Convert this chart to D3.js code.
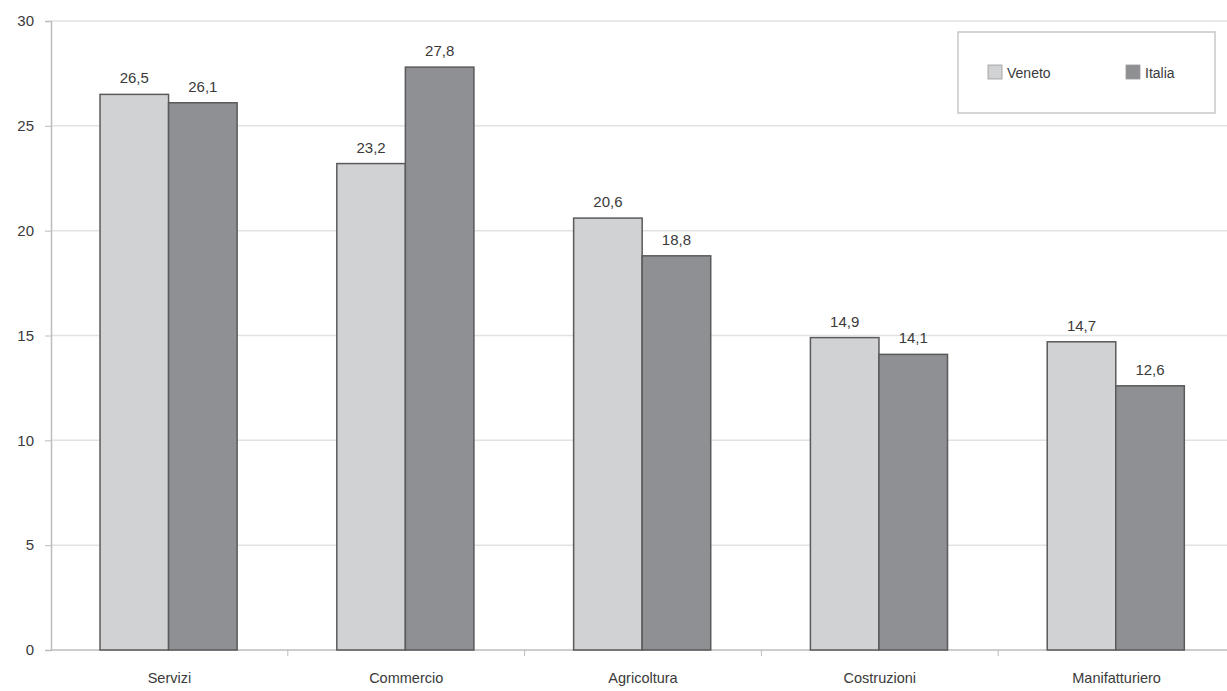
<!DOCTYPE html>
<html><head><meta charset="utf-8">
<script src="https://cdn.jsdelivr.net/npm/d3@7"></script>
<style>body{margin:0;background:#fff}text{font-family:"Liberation Sans",Arial,sans-serif}</style>
</head><body><svg id="c" width="1227" height="691"></svg>
<script>
const categories = ["Servizi","Commercio","Agricoltura","Costruzioni","Manifatturiero"];
const seriesNames = ["Veneto","Italia"];
const veneto = [26.5,23.2,20.6,14.9,14.7];
const italia = [26.1,27.8,18.8,14.1,12.6];
const yTicks = [0,5,10,15,20,25,30];
const colors = ["#d1d2d4","#8f9093"];

const svg = d3.select("#c");
const x0 = d3.scaleBand().domain(categories).range([51,1235]).padding(0);
const x1 = d3.scaleBand().domain(seriesNames).range([x0.bandwidth()*0.207, x0.bandwidth()*0.786]).padding(0);
const y = d3.scaleLinear().domain([0,30]).range([650,21]);

// grid
svg.append("g").selectAll("line").data(yTicks.filter(d=>d>0)).join("line")
  .attr("x1",51).attr("x2",1227).attr("y1",d=>y(d)).attr("y2",d=>y(d))
  .attr("stroke","#e2e2e2").attr("stroke-width",1.5);

// y axis
const ya = svg.append("g").attr("transform","translate(51,0)")
  .call(d3.axisLeft(y).tickValues(yTicks).tickSize(6).tickPadding(11).tickFormat(d3.format("d")));
ya.select(".domain").attr("stroke","#bdbdbd").attr("stroke-width",1.5);
ya.selectAll(".tick line").attr("stroke","#bdbdbd");
ya.selectAll("text").attr("font-size",15).attr("fill","#3a3a3a");

// x axis
const xa = svg.append("g").attr("transform","translate(0,650)")
  .call(d3.axisBottom(x0).tickSize(0).tickPadding(23));
xa.select(".domain").attr("stroke","#bdbdbd").attr("stroke-width",1.5).attr("d","M51,0H1227");
xa.selectAll("text").attr("font-size",14.5).attr("fill","#3a3a3a");
svg.append("g").selectAll("line").data(categories.slice(1)).join("line")
  .attr("x1",d=>x0(d)).attr("x2",d=>x0(d)).attr("y1",650).attr("y2",656).attr("stroke","#bdbdbd");

const data = categories.map((c,i)=>({cat:c, vals:[{s:"Veneto",v:veneto[i]},{s:"Italia",v:italia[i]}]}));
const g = svg.append("g").selectAll("g").data(data).join("g").attr("transform",d=>`translate(${x0(d.cat)},0)`);
g.selectAll("rect").data(d=>d.vals).join("rect")
  .attr("x",d=>x1(d.s)).attr("width",x1.bandwidth())
  .attr("y",d=>y(d.v)).attr("height",d=>y(0)-y(d.v))
  .attr("fill",(d,i)=>colors[i]).attr("stroke","#5a5a5c").attr("stroke-width",1.5);
g.selectAll("text").data(d=>d.vals).join("text")
  .attr("x",d=>x1(d.s)+x1.bandwidth()/2).attr("y",d=>y(d.v)-11)
  .attr("text-anchor","middle").attr("font-size",15).attr("fill","#3a3a3a")
  .text(d=>d3.format(".1f")(d.v).replace(".",","));

// legend
const lg = svg.append("g");
lg.append("rect").attr("x",958).attr("y",32).attr("width",257).attr("height",81)
  .attr("fill","#fff").attr("stroke","#c8c8c8").attr("stroke-width",1.5);
const lx = [988,1126];
seriesNames.forEach((s,i)=>{
  lg.append("rect").attr("x",lx[i]).attr("y",65).attr("width",14).attr("height",14)
    .attr("fill",colors[i]).attr("stroke","#9a9a9a").attr("stroke-width",0.8);
  lg.append("text").attr("x",lx[i]+19).attr("y",78).attr("font-size",14).attr("fill","#3a3a3a").text(s);
});
</script></body></html>
